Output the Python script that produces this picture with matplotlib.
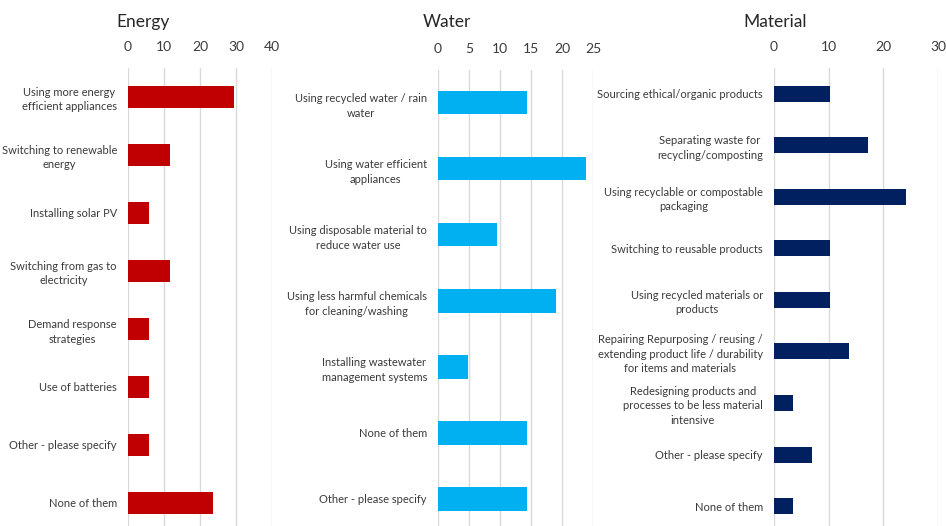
import matplotlib.pyplot as plt
import numpy as np

plt.rcParams['font.family'] = ['Lato', 'DejaVu Sans']

# shares of respondents (%) per measure
energy_labels = ["Using more energy\nefficient appliances", "Switching to renewable\nenergy",
                 "Installing solar PV", "Switching from gas to\nelectricity",
                 "Demand response\nstrategies", "Use of batteries",
                 "Other - please specify", "None of them"]
energy_values = [29.4, 11.8, 5.9, 11.8, 5.9, 5.9, 5.9, 23.5]

water_labels = ["Using recycled water / rain\nwater", "Using water efficient\nappliances",
                "Using disposable material to\nreduce water use",
                "Using less harmful chemicals\nfor cleaning/washing",
                "Installing wastewater\nmanagement systems", "None of them",
                "Other - please specify"]
water_values = [14.3, 23.8, 9.5, 19.0, 4.8, 14.3, 14.3]

material_labels = ["Sourcing ethical/organic products", "Separating waste for\nrecycling/composting",
                   "Using recyclable or compostable\npackaging", "Switching to reusable products",
                   "Using recycled materials or\nproducts",
                   "Repairing Repurposing / reusing /\nextending product life / durability\nfor items and materials",
                   "Redesigning products and\nprocesses to be less material\nintensive",
                   "Other - please specify", "None of them"]
material_values = [10.3, 17.2, 24.1, 10.3, 10.3, 13.8, 3.4, 6.9, 3.4]

panels = [
    # title, labels, values, colour, xmax, xstep, axes rect, bar height, title x
    ("Energy", energy_labels, energy_values, "#C00000", 40, 10,
     [128 / 946, -0.0114, 144 / 946, 0.8825], 0.38, 143 / 946),
    ("Water", water_labels, water_values, "#00B0F0", 25, 5,
     [438 / 946, -0.0114, 155 / 946, 0.8785], 0.35, 447 / 946),
    ("Material", material_labels, material_values, "#002060", 30, 10,
     [774 / 946, -0.0114, 164 / 946, 0.8825], 0.31, 775 / 946),
]

fig = plt.figure(figsize=(9.46, 5.26), dpi=100)
text_col = "#3a3a3a"

for title, labels, values, col, xmax, step, rect, bh, tx in panels:
    ax = fig.add_axes(rect)
    y = np.arange(len(labels))
    ax.barh(y, values, height=bh, color=col, zorder=3)
    ax.set_yticks(y)
    ax.set_yticklabels(labels, fontsize=8, color=text_col, multialignment='center',
                       linespacing=1.4)
    ax.set_ylim(len(labels) - 0.5, -0.5)
    ax.set_xlim(0, xmax)
    ax.set_xticks(np.arange(0, xmax + 1, step))
    ax.xaxis.tick_top()
    ax.tick_params(axis='x', length=0, pad=11, labelsize=10, labelcolor=text_col)
    ax.tick_params(axis='y', length=0, pad=8)
    ax.xaxis.grid(True, color="#d9d9d9", linewidth=1, zorder=0)
    ax.set_axisbelow(True)
    for s in ax.spines.values():
        s.set_visible(False)
    fig.text(tx, 1 - 22 / 526, title, ha='center', va='center', fontsize=12.5, color="#262626")

fig.savefig("out.png", dpi=100)
